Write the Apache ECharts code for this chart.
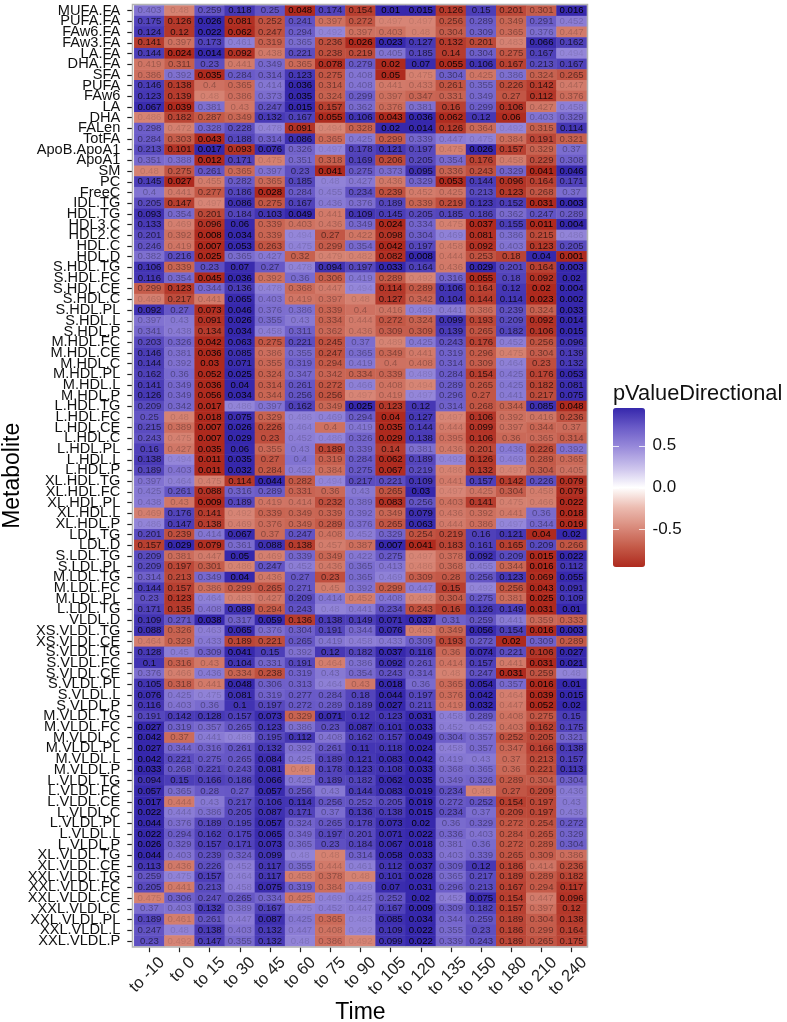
<!DOCTYPE html>
<html>
<head>
<meta charset="utf-8">
<style>
html,body{margin:0;padding:0;background:#fff}
#c{width:787px;height:1022px;filter:blur(0.35px)}
</style>
<script src="https://cdn.jsdelivr.net/npm/echarts@6/dist/echarts.min.js"></script>
</head>
<body>
<div id="c"></div>
<script>
const timeLabels = ['to -10','to 0','to 15','to 30','to 45','to 60','to 75','to 90','to 105','to 120','to 135','to 150','to 180','to 210','to 240'];
const metabolites = ['MUFA.FA','PUFA.FA','FAw6.FA','FAw3.FA','LA.FA','DHA.FA','SFA','PUFA','FAw6','LA','DHA','FALen','TotFA','ApoB.ApoA1','ApoA1','SM','PC','FreeC','IDL.TG','HDL.TG','HDL3.C','HDL2.C','HDL.C','HDL.D','S.HDL.TG','S.HDL.FC','S.HDL.CE','S.HDL.C','S.HDL.PL','S.HDL.L','S.HDL.P','M.HDL.FC','M.HDL.CE','M.HDL.C','M.HDL.PL','M.HDL.L','M.HDL.P','L.HDL.TG','L.HDL.FC','L.HDL.CE','L.HDL.C','L.HDL.PL','L.HDL.L','L.HDL.P','XL.HDL.TG','XL.HDL.FC','XL.HDL.PL','XL.HDL.L','XL.HDL.P','LDL.TG','LDL.D','S.LDL.TG','S.LDL.PL','M.LDL.TG','M.LDL.FC','M.LDL.PL','L.LDL.TG','VLDL.D','XS.VLDL.TG','XS.VLDL.CE','S.VLDL.TG','S.VLDL.FC','S.VLDL.CE','S.VLDL.PL','S.VLDL.L','S.VLDL.P','M.VLDL.TG','M.VLDL.FC','M.VLDL.C','M.VLDL.PL','M.VLDL.L','M.VLDL.P','L.VLDL.TG','L.VLDL.FC','L.VLDL.CE','L.VLDL.C','L.VLDL.PL','L.VLDL.L','L.VLDL.P','XL.VLDL.TG','XL.VLDL.CE','XXL.VLDL.TG','XXL.VLDL.FC','XXL.VLDL.CE','XXL.VLDL.C','XXL.VLDL.PL','XXL.VLDL.L','XXL.VLDL.P'];
// p values per metabolite (rows) and time (columns); sign = direction (+ blue, - red)
const signedP = [
[.403,-.48,.259,.118,.25,-.048,.174,-.154,.01,.015,-.126,.15,-.201,-.301,.016],
[.175,-.126,.026,-.081,-.252,.241,-.397,-.272,-.497,-.497,-.256,.289,-.349,.291,.452],
[.124,-.12,.022,-.062,-.247,.294,.492,-.397,-.403,-.48,-.304,.309,-.365,.376,-.447],
[-.141,-.397,.173,.461,-.319,.365,-.236,-.026,.023,.127,-.132,-.201,-.483,.066,.162],
[.144,-.024,.014,-.092,-.438,.221,-.238,-.219,.405,.185,-.14,.304,-.275,.167,.494],
[-.419,-.311,.23,-.441,.349,-.365,-.078,.279,-.02,.07,-.055,.106,-.167,.213,.167],
[-.386,.392,-.035,.284,.314,.123,-.275,.408,-.05,-.475,.304,-.425,.386,-.324,-.265],
[.146,-.138,-.4,-.365,.414,.036,-.314,.408,-.441,-.433,-.261,.355,-.226,-.142,-.447],
[.123,-.139,-.48,-.386,.373,.035,-.324,.299,-.397,-.347,-.331,.349,-.27,-.112,-.376],
[.067,-.039,.381,-.43,.247,.015,-.157,.362,-.376,.381,-.16,.299,-.106,-.427,.458],
[-.486,-.182,-.287,-.349,.132,.167,-.055,.106,-.043,.036,-.062,.12,-.06,.403,.329],
[.298,-.472,.328,.228,.478,-.091,-.494,-.328,.02,.014,-.126,-.364,.492,-.315,.114],
[.284,-.303,-.043,.188,.314,.086,-.365,.425,-.299,.339,.447,.475,-.384,-.191,-.321],
[.213,-.101,.017,-.093,.076,.326,.497,.178,.121,.197,-.475,.026,-.157,-.329,.37],
[.351,.388,-.012,.171,-.475,.351,-.318,.169,-.206,.205,.354,-.176,-.458,-.229,.308],
[-.48,-.275,.261,-.365,.397,.23,-.041,.275,.373,.095,-.336,-.243,.329,-.041,.046],
[.145,-.027,-.455,.282,-.365,.185,.48,.427,-.436,.329,-.053,.144,-.096,-.164,.171],
[.4,-.441,-.277,.186,-.028,.284,.455,.234,-.239,-.452,-.425,.213,-.123,-.268,.37],
[.205,-.147,-.497,.086,-.275,.167,.436,.376,.189,-.339,-.219,.123,.152,-.031,.003],
[.093,.354,-.201,.184,.103,.049,-.441,.109,.145,.205,.185,.186,.362,.247,.289],
[.133,-.469,-.096,.06,-.339,-.403,-.436,.349,-.024,.334,-.475,-.037,.155,-.011,.004],
[.201,-.392,-.008,.034,-.339,.494,-.27,-.422,-.098,.304,.469,-.081,.386,-.215,.486],
[.246,-.419,-.007,.053,-.263,.475,-.299,.354,-.042,.197,-.458,-.092,.403,-.123,.205],
[.382,.216,-.025,.365,.427,-.32,-.479,-.482,-.082,.008,-.444,-.253,-.18,.04,-.001],
[.106,-.339,.23,.07,.27,.478,.094,.197,.033,.164,-.436,.029,.201,-.164,.003],
[.116,.354,-.045,.036,-.392,.36,-.306,.419,-.289,-.492,.316,-.055,.18,-.092,.02],
[-.299,-.123,.344,.136,.478,-.368,-.447,.494,-.114,-.289,.106,-.164,.12,-.02,.004],
[-.469,-.217,-.441,.065,.403,-.419,-.397,-.48,-.127,-.342,.104,-.144,.114,-.023,.002],
[.092,.27,-.073,.046,.376,.386,-.339,-.4,-.416,.469,.441,-.386,.239,-.324,.033],
[.397,.43,-.091,.026,.355,.43,-.334,-.444,-.272,-.324,.099,-.193,.209,-.092,.014],
[.341,.438,-.134,.034,.458,.311,-.362,-.436,-.309,-.309,.139,-.265,.182,-.106,.015],
[.203,.326,-.042,.063,-.275,.221,-.245,.37,-.489,.425,.243,-.176,.452,-.256,.096],
[.146,.381,-.036,.085,-.386,.355,-.247,.365,-.349,-.441,.319,-.296,-.475,-.304,.139],
[.144,.392,-.03,.071,-.355,.319,-.294,.419,-.4,-.408,.314,-.309,.464,-.23,.132],
[.162,.36,-.052,.025,-.324,.347,-.342,-.334,-.339,.489,.284,-.154,.425,-.176,.053],
[.141,.349,-.036,.04,-.314,.261,-.272,.466,-.408,-.494,.289,-.265,.425,-.182,.081],
[.126,.349,-.056,.034,-.344,.256,-.256,-.497,-.419,.497,.296,-.27,.441,-.217,.075],
[.209,.342,-.017,.486,.397,.162,-.349,.025,-.123,.12,.314,-.268,-.344,.085,-.048],
[.25,-.48,-.018,.075,-.329,.486,.469,.294,-.04,.127,-.497,-.106,-.392,-.416,-.236],
[.215,-.389,-.007,.026,-.226,.464,-.4,.419,-.035,.144,-.444,-.099,-.397,-.344,-.37],
[.243,-.475,-.007,.029,-.23,.452,.486,.326,-.029,.138,-.395,-.106,-.36,-.365,-.314],
[.16,-.427,-.035,.06,-.355,.43,-.189,.339,-.14,.381,-.436,-.201,.436,-.226,.392],
[.138,.494,-.011,.035,-.27,.4,-.319,.284,-.062,.189,.492,-.126,.469,-.289,-.365],
[.189,.403,-.011,.032,-.284,.452,-.384,.275,-.067,.219,-.486,-.132,-.497,-.304,-.405],
[.397,.464,-.475,-.114,.044,-.282,.494,.217,.221,.109,-.441,.157,-.142,.226,-.079],
[.425,.261,-.088,.316,.289,-.331,-.36,.43,-.265,.03,-.497,-.425,-.304,-.458,-.079],
[.438,-.43,-.009,.189,-.419,-.414,-.232,.389,-.083,.256,-.403,-.141,-.475,-.466,-.022],
[-.469,.176,-.141,-.492,-.339,-.349,-.339,.392,-.349,.079,-.436,-.392,-.441,.36,-.018],
[.486,.147,-.138,-.469,-.376,-.349,-.289,.376,-.265,.063,-.444,-.386,.497,.344,-.019],
[.201,-.239,.414,.067,-.37,.247,-.408,.452,.329,-.254,-.219,.16,.121,-.04,.02],
[-.157,.029,-.079,.361,.088,-.138,-.457,-.387,.007,-.041,-.183,.161,-.165,.209,-.266],
[.209,-.381,-.447,.05,-.469,.339,-.349,.422,.275,-.497,-.378,.092,.209,-.015,.022],
[.209,-.197,-.301,-.486,.247,.452,-.436,.365,.413,-.486,-.368,.455,-.344,-.016,.112],
[.314,-.213,.349,.04,-.436,.27,-.23,.365,.469,-.309,-.28,.256,.123,-.069,.055],
[.144,-.157,-.386,-.299,-.265,.271,-.45,.392,-.299,.447,-.15,.492,-.256,-.043,.091],
[.23,-.123,.464,-.483,-.427,.209,.414,-.452,.408,-.492,-.304,.275,-.381,-.025,.109],
[.171,-.135,.408,.089,-.294,.243,.48,.441,.234,-.243,-.16,.126,.149,-.031,.01],
[.109,.271,.038,.317,.059,-.136,.138,.149,.071,.037,.31,.259,.441,-.359,-.333],
[.088,-.326,.463,.065,.376,.304,.191,.344,.076,-.463,-.349,.056,.154,-.016,.003],
[-.464,-.329,.433,-.189,-.221,.265,.419,.458,.433,.309,-.193,.272,-.02,.309,-.289],
[.128,.45,.309,.041,.15,.392,.12,.182,.037,.116,-.36,.074,.221,-.106,.027],
[.1,-.316,-.43,.104,.331,.191,-.464,.386,.092,.261,-.414,.157,-.441,-.031,.021],
[.376,-.466,.436,-.334,-.238,.319,.43,.354,.243,.314,-.48,.247,-.031,-.259,.48],
[.105,-.318,-.441,.048,.306,.313,.464,-.43,.018,.36,-.365,.054,.357,-.016,.01],
[.076,.425,.475,.081,.319,.277,.284,.18,.044,.197,-.376,.042,-.464,-.039,.015],
[.116,.403,.36,.1,.197,.272,.289,.189,.027,.211,-.419,.032,-.447,-.052,.02],
[.191,.142,.128,.157,.073,-.329,.071,.12,.123,.031,.458,.289,-.408,-.275,.15],
[.027,.319,.357,.265,.123,.386,.23,.087,.101,.033,.452,.452,-.403,-.162,.175],
[.042,-.37,.441,.486,.195,.112,.408,.162,.157,.049,.304,.357,-.252,-.205,.321],
[.027,.344,.316,.261,.132,.392,.261,.11,.118,.024,.458,.357,-.347,-.166,.138],
[.042,.221,.275,.265,.084,.425,.189,.121,.083,.042,.419,.43,-.37,-.213,.157],
[.033,.268,.221,.243,.081,-.48,.178,.123,.108,.033,.368,.365,-.36,-.221,.113],
[.094,.15,.166,.186,.066,.425,.189,.182,.062,.035,.349,.326,-.289,-.304,.304],
[.057,.365,.28,.27,.057,.256,.43,.144,.083,.019,.234,-.48,-.27,-.209,.436],
[.017,-.444,.43,.217,.106,.114,.256,.252,.205,.019,.272,.252,-.154,-.197,.43],
[.022,.444,.386,.205,.087,.171,.37,.136,.138,.015,.234,.37,-.209,-.197,.436],
[.044,.376,.189,.195,.057,.324,.265,.178,.073,.02,.36,.329,-.272,-.254,.272],
[.022,.294,.162,.175,.065,.349,.197,.201,.071,.022,.336,.403,-.284,-.265,.329],
[.026,.329,.157,.171,.073,.365,.23,.184,.067,.018,.381,.36,-.272,-.289,.304],
[.044,.403,.239,.324,.099,.48,-.48,.314,.058,.033,.403,.339,-.265,-.309,-.386],
[.113,-.436,.226,.452,.117,.355,-.444,.461,.112,.037,.309,.12,-.186,-.414,-.236],
[.259,.475,.157,.464,.117,-.458,-.378,-.48,.101,.028,.365,.217,-.189,-.289,-.182],
[.205,-.441,.213,.458,.075,.319,-.384,.469,.07,.031,.296,.213,-.167,-.294,-.117],
[-.475,.306,.247,.265,.334,-.425,.469,.425,.252,.02,.452,.075,-.154,-.447,-.096],
[.37,.403,.132,.389,.167,.475,.452,.447,.167,.009,.309,.182,-.157,-.397,-.12],
[.189,-.461,.261,.447,.087,.425,-.365,.483,.085,.034,.344,.259,-.189,-.304,-.138],
[.247,.48,.138,.403,.132,.447,-.408,.492,.109,.022,.355,.23,-.186,-.299,-.164],
[.23,-.492,.147,.355,.132,.48,-.386,-.492,.099,.022,.339,.243,-.189,-.265,-.175]
];
const legendTicks = [0.5, 0.0, -0.5];
const legendMax = 0.95;
const colorStops = ['#ae2a1e','#c45a48','#d98b7c','#ecbcb1','#ffffff','#cbc2ec','#9a8cdb','#6b5cc8','#3628ac'];

const cells = [];
signedP.forEach((row, y) => row.forEach((p, x) => {
  const a = Math.abs(p);
  const alpha = Math.max(0.1, 1 - 1.8 * a);
  cells.push({
    value: [x, y, Math.sign(p) * (1 - a)],
    p: a,
    label: { color: 'rgba(0,0,0,' + alpha.toFixed(3) + ')' }
  });
}));

// legend geometry (bar box), not data
const barL = 613, barT = 408, barW = 32, barH = 159;
const legendY = v => barT + (legendMax - v) / (2 * legendMax) * barH;
const legendGraphics = [];
legendTicks.forEach(v => {
  const y = Math.round(legendY(v)) + 0.5;
  legendGraphics.push(
    { type:'line', z:100, shape:{x1:barL,y1:y,x2:barL+6,y2:y}, style:{stroke:'rgba(255,255,255,0.8)',lineWidth:1} },
    { type:'line', z:100, shape:{x1:barL+barW-6,y1:y,x2:barL+barW,y2:y}, style:{stroke:'rgba(255,255,255,0.8)',lineWidth:1} },
    { type:'text', z:100, style:{ x:652.5, y:legendY(v), text:v.toFixed(1), fill:'#111', font:'17px "Liberation Sans", Arial, sans-serif', textVerticalAlign:'middle', textAlign:'left' } }
  );
});

const chart = echarts.init(document.getElementById('c'), null, {renderer:'canvas'});
chart.setOption({
  animation:false,
  backgroundColor:'#fff',
  textStyle:{fontFamily:'"Liberation Sans", Arial, sans-serif'},
  grid:{left:134.3, top:5.4, width:452.4, height:940.8, containLabel:false, show:false, outerBoundsMode:'none'},
  xAxis:{
    type:'category', data:timeLabels, position:'bottom', offset:1,
    name:'Time', nameLocation:'middle', nameGap:54, nameMoveOverlap:false,
    nameTextStyle:{fontSize:23, color:'#000'},
    axisLine:{show:false},
    axisTick:{show:true, alignWithLabel:true, length:5, lineStyle:{color:'#222', width:1.2}},
    axisLabel:{interval:0, rotate:45, fontSize:16.5, color:'#222', margin:0, lineHeight:36, verticalAlign:'top', align:'right'},
    splitLine:{show:false}
  },
  yAxis:{
    type:'category', data:metabolites, inverse:true, offset:2,
    name:'Metabolite', nameLocation:'middle', nameGap:108, nameRotate:90, nameMoveOverlap:false,
    nameTextStyle:{fontSize:23, color:'#000'},
    axisLine:{show:false},
    axisTick:{show:true, alignWithLabel:true, length:5, lineStyle:{color:'#222', width:1.2}},
    axisLabel:{interval:0, fontSize:14.6, color:'#111', margin:12},
    splitLine:{show:false}
  },
  visualMap:{
    type:'continuous', dimension:2, min:-legendMax, max:legendMax, calculable:false,
    orient:'vertical', left:barL, top:barT, itemWidth:barW, itemHeight:barH, padding:0,
    text:null, showLabel:false, realtime:false,
    inRange:{color:colorStops},
    seriesIndex:0
  },
  graphic:{elements:[
    { type:'rect', z:100, silent:true, shape:{x:132.5,y:4.5,width:455,height:942.5}, style:{fill:'none',stroke:'#b3b3b3',lineWidth:1.5} },
    { type:'text', z:100, style:{ x:613, y:394, text:'pValueDirectional', fill:'#111', font:'21.8px "Liberation Sans", Arial, sans-serif', textVerticalAlign:'middle', textAlign:'left' } }
  ].concat(legendGraphics)},
  series:[{
    type:'heatmap', data:cells, progressive:0, silent:true,
    label:{ show:true, fontSize:9.6, formatter:params => String(params.data.p) },
    itemStyle:{borderWidth:0}
  }]
});
</script>
</body>
</html>
